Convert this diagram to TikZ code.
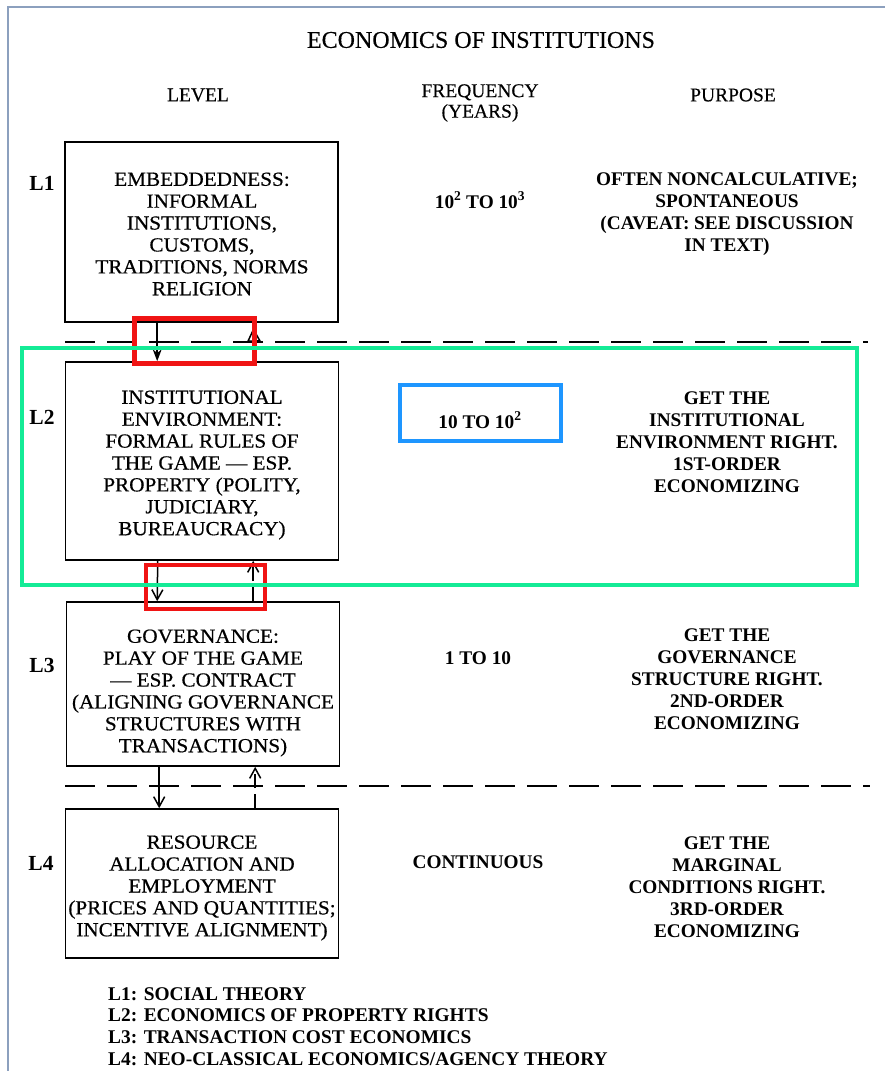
\documentclass[tikz,border=0pt]{standalone}
\usepackage{fontspec}
\setmainfont{Liberation Serif}
\newfontfamily\boxfont{Liberation Serif}[FakeBold=0.5,FakeStretch=1.06]
\newfontfamily\hdrfont{Liberation Serif}[FakeBold=0.3]
\usetikzlibrary{arrows.meta,calc}
\definecolor{framec}{RGB}{140,160,190}
\definecolor{annred}{RGB}{240,20,20}
\definecolor{anngreen}{RGB}{20,235,150}
\definecolor{annblue}{RGB}{30,150,255}
\begin{document}
\begin{tikzpicture}[x=1pt,y=-1pt,
  lvbox/.style={draw,line width=1.6pt,minimum width=273pt,inner sep=0pt},
  boxtxt/.style={align=center,inner sep=0pt,font=\boxfont\fontsize{20}{21.9}\selectfont},
  coltxt/.style={align=center,inner sep=0pt,font=\bfseries\fontsize{19.3}{21.9}\selectfont},
  hdr/.style={align=center,inner sep=0pt,font=\hdrfont\fontsize{19.5}{20.5}\selectfont},
  lab/.style={inner sep=0pt,font=\bfseries\fontsize{21.5}{21.5}\selectfont},
  foot/.style={align=left,inner sep=0pt,anchor=north west,font=\bfseries\fontsize{19.4}{21.7}\selectfont},
  arr/.style={line width=1.5pt},
  dline/.style={line width=2pt,dash pattern=on 30pt off 12pt},
  dup/.style={line width=1.5pt,dash pattern=on 14pt off 6pt},
  ann/.style={line width=4.5pt}
]
\useasboundingbox (0,0) rectangle (885,1071);
\fill[white] (0,0) rectangle (885,1071);
\draw[framec,line width=2pt] (8,1071) -- (8,7) -- (885,7);

% title and headers
\node[inner sep=0pt,font=\hdrfont\fontsize{24}{24}\selectfont] (title) at (481,40) {ECONOMICS OF INSTITUTIONS};
\node[hdr] (hlevel) at (198,95) {LEVEL};
\node[hdr] (hfreq) at (480,103) {FREQUENCY\\(YEARS)};
\node[hdr] (hpurp) at (733,95) {PURPOSE};

% level boxes
\node[lvbox,minimum height=180pt] (b1) at (201.5,232) {};
\node[lvbox,minimum height=198pt] (b2) at (202,461) {};
\node[lvbox,minimum height=164pt] (b3) at (203,684) {};
\node[lvbox,minimum height=149pt] (b4) at (202,883.5) {};
\node[boxtxt] (t1) at (202,234) {EMBEDDEDNESS:\\INFORMAL\\INSTITUTIONS,\\CUSTOMS,\\TRADITIONS, NORMS\\RELIGION};
\node[boxtxt] (t2) at (202,465) {INSTITUTIONAL\\ENVIRONMENT:\\FORMAL RULES OF\\THE GAME — ESP.\\PROPERTY (POLITY,\\JUDICIARY,\\BUREAUCRACY)};
\node[boxtxt] (t3) at (203,693) {GOVERNANCE:\\PLAY OF THE GAME\\— ESP. CONTRACT\\(ALIGNING GOVERNANCE\\STRUCTURES WITH\\TRANSACTIONS)};
\node[boxtxt] (t4) at (202,888) {RESOURCE\\ALLOCATION AND\\EMPLOYMENT\\(PRICES AND QUANTITIES;\\INCENTIVE ALIGNMENT)};

% level labels
\node[lab] (l1) at (42,183) {L1};
\node[lab] (l2) at (42,417) {L2};
\node[lab] (l3) at (42,665) {L3};
\node[lab] (l4) at (41,863) {L4};

% frequency
\node[coltxt] (f1) at (480,200) {10\textsuperscript{2} TO 10\textsuperscript{3}};
\node[coltxt] (f2) at (480,420) {10 TO 10\textsuperscript{2}};
\node[coltxt] (f3) at (478,658) {1 TO 10};
\node[coltxt] (f4) at (478,862) {CONTINUOUS};

% purpose
\node[coltxt] (p1) at (727,214) {OFTEN NONCALCULATIVE;\\SPONTANEOUS\\(CAVEAT: SEE DISCUSSION\\IN TEXT)};
\node[coltxt] (p2) at (727,442) {GET THE\\INSTITUTIONAL\\ENVIRONMENT RIGHT.\\1ST-ORDER\\ECONOMIZING};
\node[coltxt] (p3) at (727,679) {GET THE\\GOVERNANCE\\STRUCTURE RIGHT.\\2ND-ORDER\\ECONOMIZING};
\node[coltxt] (p4) at (727,887) {GET THE\\MARGINAL\\CONDITIONS RIGHT.\\3RD-ORDER\\ECONOMIZING};

% footer
\node[foot] (legend) at (108,987) {L1: SOCIAL THEORY\\L2: ECONOMICS OF PROPERTY RIGHTS\\L3: TRANSACTION COST ECONOMICS\\L4: NEO-CLASSICAL ECONOMICS/AGENCY THEORY};

% dashed separators
\coordinate (d1l) at (65,342);
\coordinate (d1r) at (868,342);
\coordinate (d2l) at (65,786);
\coordinate (d2r) at (870,786);
\draw[dline] (d1l) -- (d1r);
\draw[dline] (d2l) -- (d2r);

% arrows L1-L2
\draw[arr,-{Stealth[length=12pt,width=9pt]}] ([xshift=93pt]b1.south west) -- ([xshift=92.5pt]b2.north west);
\coordinate (u1) at (254,343);
\draw[arr,shorten >=5pt,-{Triangle[open,length=14pt,width=14pt]}] (u1) -- ([xshift=189pt]b1.south west);

% arrows L2-L3
\draw[arr,-{Straight Barb[length=10pt,width=11pt]}] ([xshift=93pt]b2.south west) -- ([xshift=91.5pt]b3.north west);
\draw[dup,-{Straight Barb[length=10pt,width=11pt]}] ([xshift=187.5pt]b3.north west) -- ([xshift=188.5pt]b2.south west);

% arrows L3-L4
\draw[arr,-{Straight Barb[length=10pt,width=11pt]}] ([xshift=93.5pt]b3.south west) -- ([xshift=94.5pt]b4.north west);
\draw[dup,-{Straight Barb[length=10pt,width=11pt]}] ([xshift=190.5pt]b4.north west) -- ([xshift=189.5pt]b3.south west);

% annotation rectangles
\draw[annred,ann,line width=5pt] (134.5,318) rectangle (254,363.5);
\draw[annred,ann,line width=4pt] (146,565) rectangle (265,609);
\draw[anngreen,ann] (22,348) rectangle (857,585);
\draw[annblue,ann,line width=4pt] (400,385) rectangle (560.5,441);
\end{tikzpicture}
\end{document}
